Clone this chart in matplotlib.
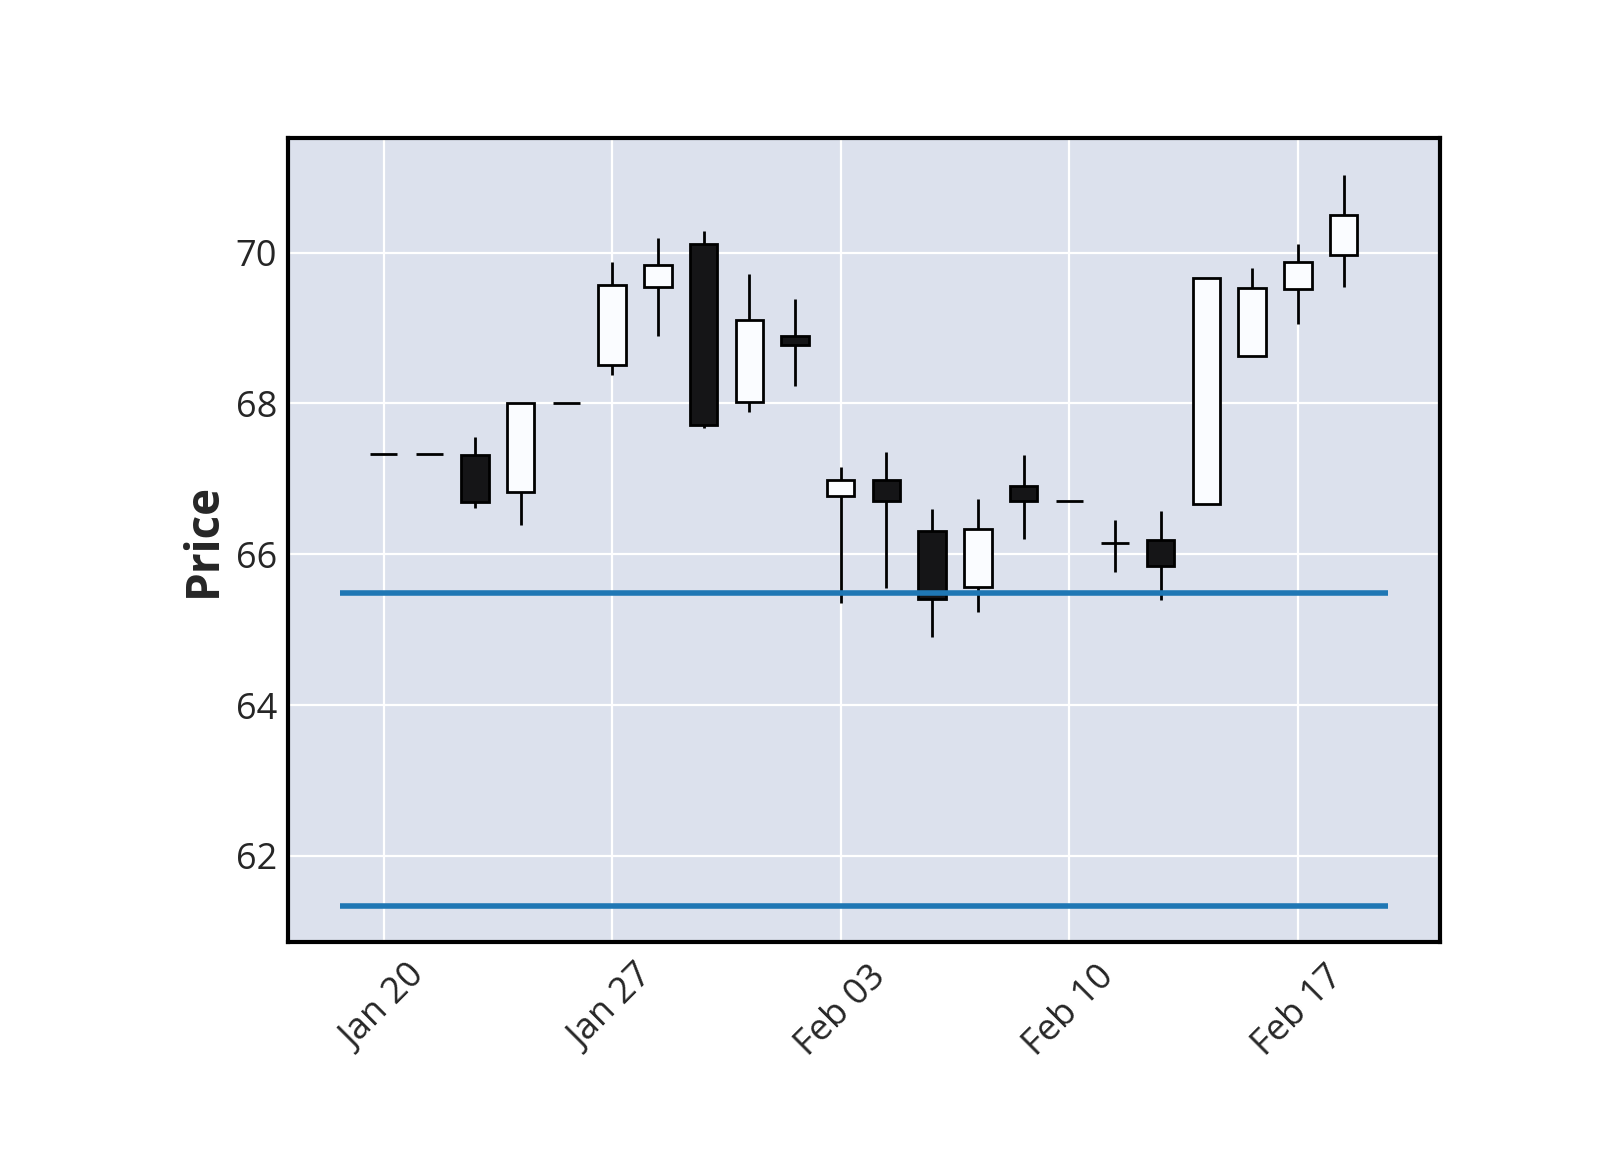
import matplotlib
matplotlib.use("Agg")
import matplotlib.pyplot as plt
import pandas as pd

plt.rcParams['font.family'] = ['Open Sans', 'DejaVu Sans']

dates = pd.bdate_range('2020-01-20', periods=22)

opens = [67.33, 67.33, 67.32, 66.82, 68.00, 68.51, 69.55, 70.12, 68.02, 68.90, 66.77,
         66.98, 66.31, 65.56, 66.90, 66.70, 66.15, 66.19, 66.66, 68.63, 69.52, 69.97]
highs = [67.33, 67.33, 67.55, 68.00, 68.00, 69.88, 70.20, 70.29, 69.71, 69.39, 67.16,
         67.36, 66.60, 66.73, 67.32, 66.70, 66.45, 66.57, 69.67, 69.79, 70.12, 71.03]
lows = [67.33, 67.33, 66.61, 66.39, 68.00, 68.38, 68.89, 67.68, 67.88, 68.23, 65.35,
        65.55, 64.90, 65.23, 66.20, 66.70, 65.77, 65.39, 66.66, 68.63, 69.05, 69.55]
closes = [67.33, 67.33, 66.69, 68.00, 68.00, 69.57, 69.83, 67.72, 69.10, 68.77, 66.98,
          66.70, 65.40, 66.34, 66.70, 66.70, 66.15, 65.84, 69.67, 69.53, 69.88, 70.50]

hline_levels = [65.49, 61.34]
hline_span = [-0.96, 21.97]

up_color = '#fafcff'
down_color = '#151517'

fig = plt.figure(figsize=(8, 5.75), dpi=200)
ax = fig.add_axes([0.180, 0.181, 0.720, 0.699])
ax.set_facecolor('#dce1ed')

x = list(range(len(dates)))
ax.vlines(x, lows, highs, color='black', linewidth=1.0, zorder=2)

bottoms = [min(o, c) for o, c in zip(opens, closes)]
heights = [abs(c - o) for o, c in zip(opens, closes)]
colors = [up_color if c >= o else down_color for o, c in zip(opens, closes)]
ax.bar(x, heights, width=0.6, bottom=bottoms, color=colors,
       edgecolor='black', linewidth=1.0, zorder=3)

for lvl in hline_levels:
    ax.hlines(lvl, hline_span[0], hline_span[1], color='#1f77b4', linewidth=2.0, zorder=4)

ax.set_xlim(-2.09, 23.11)
ax.set_ylim(60.86, 71.52)

ticks = [i for i, d in enumerate(dates) if d.weekday() == 0]
ax.set_xticks(ticks)
ax.set_xticklabels([dates[i].strftime('%b %d') for i in ticks], rotation=45)
ax.set_yticks([62, 64, 66, 68, 70])

ax.grid(True, color='white', linewidth=0.8)
ax.set_axisbelow(True)
ax.tick_params(axis='both', length=0, labelsize=13, colors='#262626')
ax.tick_params(axis='x', pad=6)
ax.tick_params(axis='y', pad=4)
for s in ax.spines.values():
    s.set_color('black')
    s.set_linewidth(1.5)

ax.set_ylabel('Price', fontsize=16.5, fontweight='bold', color='#262626', labelpad=3)

fig.savefig('out.png', dpi=200)
